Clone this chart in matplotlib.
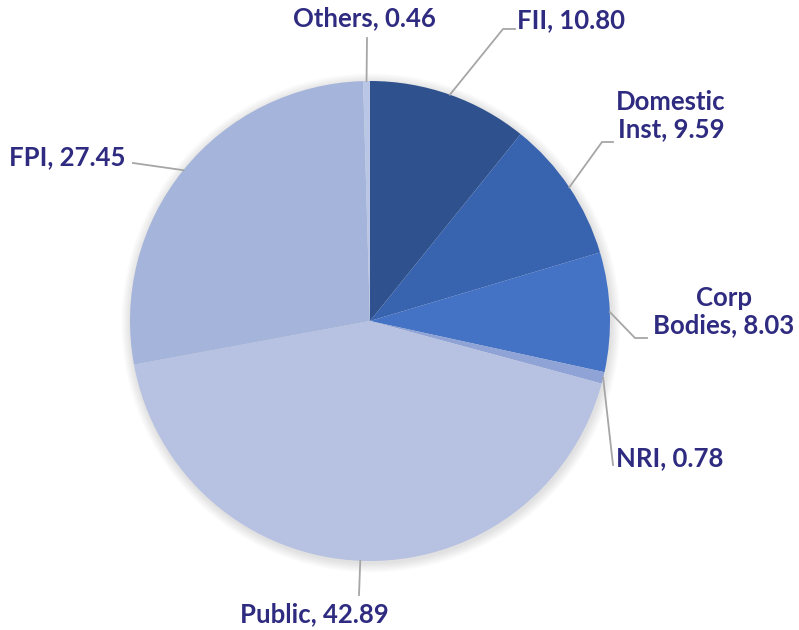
import numpy as np
import matplotlib
matplotlib.use("Agg")
import matplotlib.pyplot as plt
from matplotlib.patches import Circle

# data
labels = ["FII", "Domestic\nInst", "Corp\nBodies", "NRI", "Public", "FPI", "Others"]
values = [10.80, 9.59, 8.03, 0.78, 42.89, 27.45, 0.46]
colors = ["#2F528F", "#3863AF", "#4472C4", "#8FA3D6", "#B7C2E2", "#A5B4DA", "#B9C6E6"]

# label text positions (pixels in the 799x630 picture) and alignment
label_px = [(517, 20), (671, 116), (724, 312), (616, 458), (314, 614), (9, 157), (364, 18)]
label_ha = ["left", "center", "center", "left", "center", "left", "center"]
# elbow point of the leader line (pixels)
elbow_px = [(503, 29), (602, 142), (635, 338), (613, 465), (359, 595), (133, 163), (367, 38)]
end_px = [(515, 29), (613, 142), (647, 338), None, None, None, None]

CX, CY, R = 370, 321, 240
W, H = 799, 630


def to_data(p):
    return ((p[0] - CX) / R, (CY - p[1]) / R)


fig = plt.figure(figsize=(W / 100, H / 100), dpi=100)
ax = fig.add_axes([0, 0, 1, 1])

# soft shadow
for i in range(10):
    ax.add_patch(Circle((0.004, -0.008), 1 + 0.004 * (10 - i), color="black",
                        alpha=0.012, lw=0, zorder=0))

wedges, _ = ax.pie(values, colors=colors, startangle=90, counterclock=False,
                   radius=1, center=(0, 0), frame=True,
                   wedgeprops=dict(linewidth=0))
ax.set_xlim(-CX / R, (W - CX) / R)
ax.set_ylim(-(H - CY) / R, CY / R)
ax.axis("off")

txt_color = "#2E2B80"
for w, lab, v, lp, ha, el, en in zip(wedges, labels, values, label_px, label_ha, elbow_px, end_px):
    ang = np.deg2rad((w.theta1 + w.theta2) / 2)
    start = (np.cos(ang), np.sin(ang))
    pts = [start, to_data(el)]
    if en is not None:
        pts.append(to_data(en))
    xs, ys = zip(*pts)
    ax.plot(xs, ys, color="#A6A6A6", lw=1.3, zorder=3)
    tx, ty = to_data(lp)
    ax.text(tx, ty, f"{lab}, {v:.2f}", ha=ha, va="center", color=txt_color,
            fontsize=18.5, fontweight="bold", family=["Lato", "DejaVu Sans"],
            linespacing=1.15)

fig.savefig("out.png", dpi=100, facecolor="white")
